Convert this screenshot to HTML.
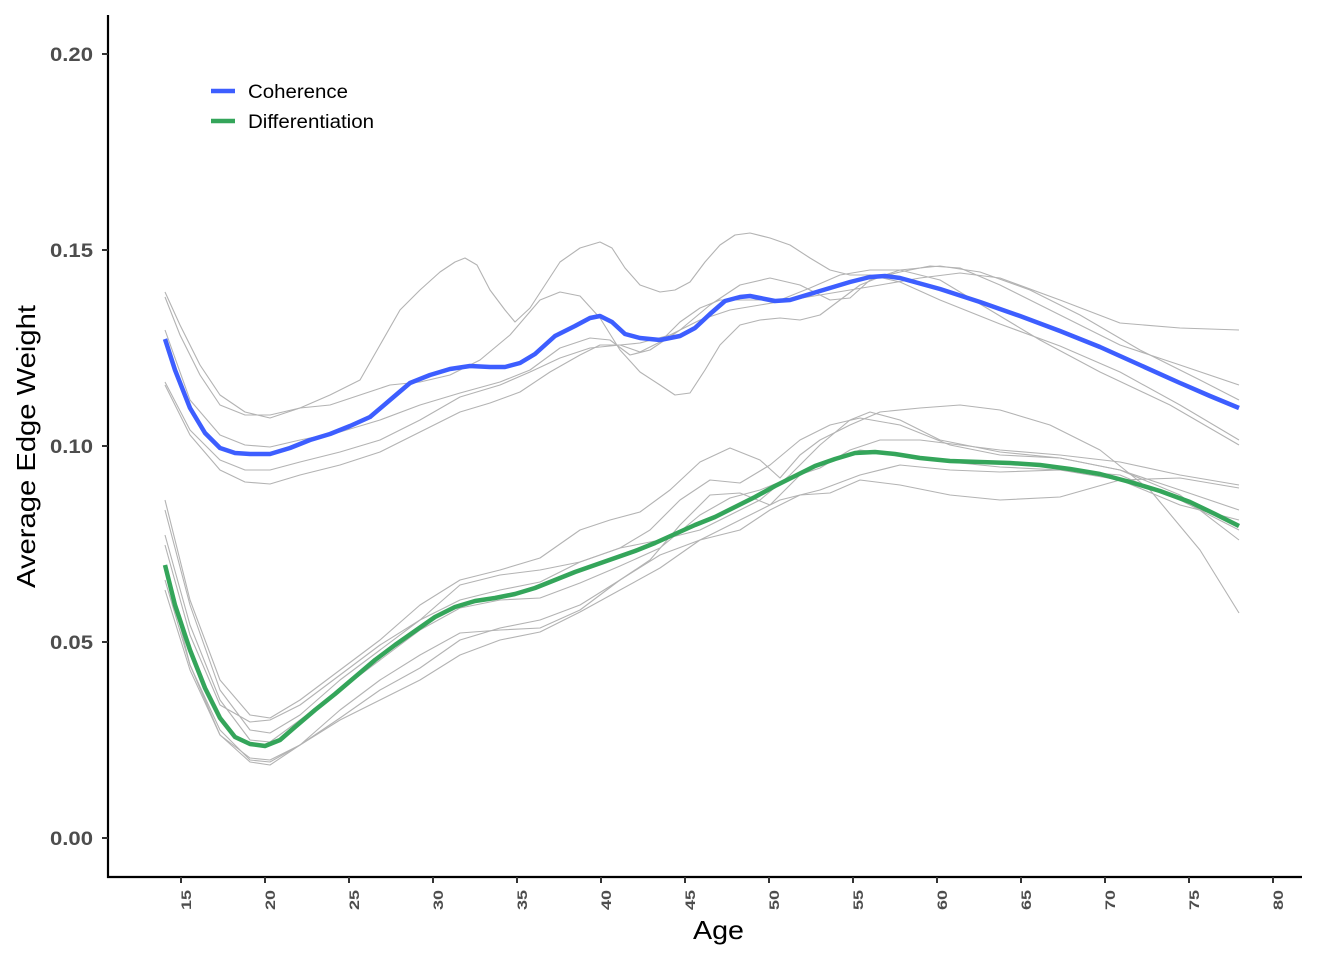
<!DOCTYPE html>
<html><head><meta charset="utf-8"><style>
html,body{margin:0;padding:0;background:#fff;}
svg{display:block;font-family:"Liberation Sans",Arial,sans-serif;}
.g{fill:none;stroke:#b3b3b3;stroke-width:1.1;stroke-linejoin:round}
</style></head><body>
<svg width="1344" height="960" viewBox="0 0 1344 960">
<rect width="1344" height="960" fill="#fff"/>
<g class="g">
<polyline points="165,292 180,325 200,365 220,395 245,412 270,418 300,408 330,395 360,380 380,345 400,310 420,290 440,272 455,262 465,258 477,265 490,290 505,310 515,322 530,308 545,285 560,262 580,248 600,242 612,248 625,268 640,285 660,292 675,290 690,282 705,262 720,245 735,235 750,233 770,238 790,245 810,258 830,270 850,275 870,275 900,282 940,300 1000,324 1060,346 1120,372 1180,405 1239,440"/>
<polyline points="165,297 180,335 200,375 220,405 245,415 270,415 300,408 330,405 360,395 390,385 420,382 450,375 480,360 510,335 540,300 560,292 580,296 600,318 620,350 640,372 660,385 675,395 690,393 705,370 720,345 740,325 760,320 780,318 800,320 820,315 840,300 860,285 880,277 900,272 930,266 960,268 1000,285 1060,315 1120,345 1180,365 1239,385"/>
<polyline points="165,330 190,400 220,435 245,445 270,447 300,440 340,432 380,420 420,405 460,393 500,382 530,370 560,348 590,338 610,340 630,355 650,350 680,330 710,305 740,285 770,278 800,285 830,300 850,298 870,280 900,270 940,266 980,272 1030,290 1080,315 1140,350 1200,380 1239,400"/>
<polyline points="165,382 190,430 220,460 245,470 270,470 300,462 340,452 380,440 420,420 460,397 500,385 530,372 560,358 590,348 620,345 640,343 670,335 700,320 730,310 760,305 790,300 820,295 850,290 880,285 920,278 960,273 1000,278 1060,300 1120,323 1180,328 1239,330"/>
<polyline points="165,385 190,435 220,470 245,482 270,484 300,475 340,465 380,452 420,432 460,412 490,403 520,392 550,372 580,355 600,345 620,345 640,352 660,342 680,322 700,308 720,300 750,300 780,300 810,288 840,275 870,270 900,270 940,280 990,310 1040,340 1100,372 1170,405 1239,445"/>
<polyline points="165,500 190,600 220,680 250,715 270,718 300,700 340,670 380,640 420,605 460,580 500,570 540,558 580,530 610,520 640,512 670,490 700,462 730,448 760,460 780,478 800,455 820,440 850,425 880,412 920,408 960,405 1000,410 1050,425 1100,450 1150,490 1200,550 1239,613"/>
<polyline points="165,510 190,605 220,690 250,730 270,733 300,715 340,680 380,650 420,620 460,585 500,575 540,570 580,562 620,548 650,530 680,500 710,480 740,483 770,465 800,440 830,425 860,418 900,425 950,445 1000,455 1060,458 1120,470 1180,495 1239,540"/>
<polyline points="165,535 190,625 220,700 250,740 270,742 300,720 340,690 380,660 420,630 460,608 500,600 540,598 580,583 620,566 660,548 700,515 730,498 760,490 790,478 820,468 850,450 880,440 920,440 960,445 1000,450 1060,455 1120,462 1180,475 1239,485"/>
<polyline points="165,565 190,665 220,730 250,760 270,762 300,745 340,710 380,680 420,655 460,633 500,630 540,628 580,610 620,580 650,560 680,525 710,495 740,493 770,505 800,475 830,460 860,450 900,455 950,462 1000,467 1060,470 1120,475 1180,500 1239,530"/>
<polyline points="165,580 190,665 220,735 250,762 270,765 300,745 340,718 380,690 420,668 460,640 500,628 540,620 580,605 620,580 660,555 700,540 740,520 780,500 820,490 860,475 900,465 950,470 1000,472 1060,470 1120,480 1180,505 1239,520"/>
<polyline points="165,590 190,670 220,735 250,758 270,760 300,745 340,720 380,700 420,680 460,655 500,640 540,632 580,612 620,590 660,568 700,540 740,530 770,510 800,495 830,493 860,480 900,485 950,495 1000,500 1060,497 1120,480 1180,478 1239,488"/>
<polyline points="165,545 190,635 220,705 250,722 270,720 300,705 340,675 380,645 420,620 460,600 500,590 540,582 580,562 620,548 660,540 700,530 730,515 760,500 790,475 820,445 850,420 870,412 900,420 940,440 1000,452 1060,458 1120,470 1180,490 1239,510"/>
</g>
<polyline fill="none" stroke="#3d5eff" stroke-width="4.5" stroke-linejoin="round" points="165,339 175,370 190,408 205,433 220,448 235,453 250,454 270,454 290,448 310,440 330,434 350,426 370,417 390,400 410,383 430,375 450,369 470,366 490,367 505,367 520,363 535,354 555,336 575,326 590,318 600,316 612,322 625,334 640,338 660,340 680,336 695,328 710,314 725,301 740,297 750,296 760,298 775,301 790,300 810,294 830,288 850,282 870,277 885,276 900,278 940,289 980,302 1020,316 1060,331 1100,347 1140,365 1180,383 1210,396 1239,408"/>
<polyline fill="none" stroke="#34a55a" stroke-width="4.5" stroke-linejoin="round" points="165,565 175,605 190,650 205,688 220,718 235,737 250,744 265,746 280,740 295,727 315,710 335,694 355,677 375,660 395,645 415,631 435,617 455,607 475,601 495,598 515,594 535,588 555,580 575,572 595,565 615,558 635,551 655,543 675,534 695,525 715,517 735,507 755,497 775,486 795,476 815,466 835,459 855,453 875,452 895,454 920,458 950,461 980,462 1010,463 1040,465 1070,469 1100,474 1130,482 1160,491 1190,502 1215,514 1239,526"/>
<g stroke="#000" stroke-width="2.2" fill="none">
<line x1="108" y1="15" x2="108" y2="878"/>
<line x1="107" y1="877" x2="1302" y2="877"/>
</g>
<g stroke="#333" stroke-width="2">
<line x1="102" y1="54" x2="108" y2="54"/><line x1="102" y1="250" x2="108" y2="250"/><line x1="102" y1="446" x2="108" y2="446"/><line x1="102" y1="642" x2="108" y2="642"/><line x1="102" y1="838" x2="108" y2="838"/>
<line x1="181" y1="877" x2="181" y2="883"/><line x1="265" y1="877" x2="265" y2="883"/><line x1="349" y1="877" x2="349" y2="883"/><line x1="433" y1="877" x2="433" y2="883"/><line x1="517" y1="877" x2="517" y2="883"/><line x1="601" y1="877" x2="601" y2="883"/><line x1="685" y1="877" x2="685" y2="883"/><line x1="769" y1="877" x2="769" y2="883"/><line x1="853" y1="877" x2="853" y2="883"/><line x1="937" y1="877" x2="937" y2="883"/><line x1="1021" y1="877" x2="1021" y2="883"/><line x1="1105" y1="877" x2="1105" y2="883"/><line x1="1189" y1="877" x2="1189" y2="883"/><line x1="1273" y1="877" x2="1273" y2="883"/>
</g>
<g fill="#4d4d4d" font-weight="bold" font-size="19">
<text x="50" y="61" textLength="43" lengthAdjust="spacingAndGlyphs">0.20</text>
<text x="50" y="257" textLength="43" lengthAdjust="spacingAndGlyphs">0.15</text>
<text x="50" y="453" textLength="43" lengthAdjust="spacingAndGlyphs">0.10</text>
<text x="50" y="649" textLength="43" lengthAdjust="spacingAndGlyphs">0.05</text>
<text x="50" y="845" textLength="43" lengthAdjust="spacingAndGlyphs">0.00</text>
</g>
<g fill="#4d4d4d" font-weight="bold" font-size="14">
<text transform="translate(191,910) rotate(-90)" textLength="20" lengthAdjust="spacingAndGlyphs">15</text>
<text transform="translate(275,910) rotate(-90)" textLength="20" lengthAdjust="spacingAndGlyphs">20</text>
<text transform="translate(359,910) rotate(-90)" textLength="20" lengthAdjust="spacingAndGlyphs">25</text>
<text transform="translate(443,910) rotate(-90)" textLength="20" lengthAdjust="spacingAndGlyphs">30</text>
<text transform="translate(527,910) rotate(-90)" textLength="20" lengthAdjust="spacingAndGlyphs">35</text>
<text transform="translate(611,910) rotate(-90)" textLength="20" lengthAdjust="spacingAndGlyphs">40</text>
<text transform="translate(695,910) rotate(-90)" textLength="20" lengthAdjust="spacingAndGlyphs">45</text>
<text transform="translate(779,910) rotate(-90)" textLength="20" lengthAdjust="spacingAndGlyphs">50</text>
<text transform="translate(863,910) rotate(-90)" textLength="20" lengthAdjust="spacingAndGlyphs">55</text>
<text transform="translate(947,910) rotate(-90)" textLength="20" lengthAdjust="spacingAndGlyphs">60</text>
<text transform="translate(1031,910) rotate(-90)" textLength="20" lengthAdjust="spacingAndGlyphs">65</text>
<text transform="translate(1115,910) rotate(-90)" textLength="20" lengthAdjust="spacingAndGlyphs">70</text>
<text transform="translate(1199,910) rotate(-90)" textLength="20" lengthAdjust="spacingAndGlyphs">75</text>
<text transform="translate(1283,910) rotate(-90)" textLength="20" lengthAdjust="spacingAndGlyphs">80</text>
</g>
<text x="693" y="939" font-size="26" fill="#000" textLength="51" lengthAdjust="spacingAndGlyphs">Age</text>
<text transform="translate(35,588) rotate(-90)" font-size="26" fill="#000" textLength="283" lengthAdjust="spacingAndGlyphs">Average Edge Weight</text>
<line x1="211" y1="91" x2="235" y2="91" stroke="#3d5eff" stroke-width="4.5"/>
<line x1="211" y1="121" x2="235" y2="121" stroke="#34a55a" stroke-width="4.5"/>
<text x="248" y="98" font-size="19" fill="#000" textLength="100" lengthAdjust="spacingAndGlyphs">Coherence</text>
<text x="248" y="128" font-size="19" fill="#000" textLength="126" lengthAdjust="spacingAndGlyphs">Differentiation</text>
</svg>
</body></html>
